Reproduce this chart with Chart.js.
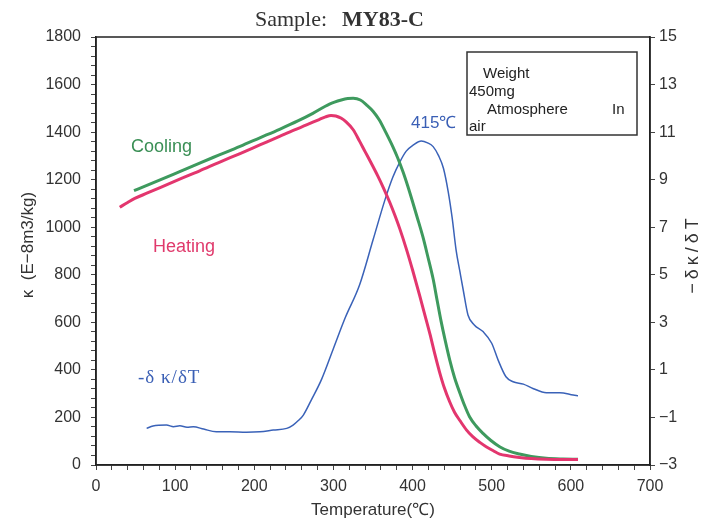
<!DOCTYPE html>
<html lang="en">
<head>
  <meta charset="UTF-8" />
  <title>Sample: MY83-C</title>
  <script src="https://cdn.jsdelivr.net/npm/chart.js@4.4.1/dist/chart.umd.min.js"></script>
  <style>
    body {
      margin: 0;
      background-color: #fff;
    }
    #wrap {
      width: 703px;
      height: 522px;
    }
  </style>
</head>
<body>
  <div id="wrap">
    <canvas id="grafico" width="703" height="522"></canvas>
  </div>

  <script>
    // Heating curve: temperature (C) and susceptibility kappa (E-8 m3/kg)
    const heatT = [30, 40, 49, 65, 81, 105, 131, 155, 182, 207, 232, 250, 266, 282, 290, 297, 303, 310, 316, 325, 333, 340, 348, 356, 363, 371, 378, 384, 392, 400, 409, 416, 422, 428, 434, 440, 447, 453, 460, 468, 476, 485, 493, 502, 510, 522, 535, 550, 569, 590, 609];
    const heatK = [1084, 1104, 1121, 1144, 1167, 1201, 1237, 1272, 1310, 1346, 1382, 1408, 1430, 1453, 1464, 1470, 1468, 1458, 1443, 1410, 1362, 1318, 1268, 1216, 1167, 1106, 1047, 992, 910, 820, 712, 625, 550, 468, 392, 326, 265, 222, 186, 148, 119, 95, 77, 60, 46, 38, 32, 27, 24, 23, 23];

    // Cooling curve
    const coolT = [48, 65, 81, 105, 131, 155, 182, 207, 232, 255, 274, 295, 310, 318, 325, 334, 342, 350, 358, 366, 375, 381, 388, 394, 400, 406, 413, 419, 426, 431, 436, 441, 447, 453, 460, 466, 472, 480, 489, 499, 510, 522, 535, 550, 569, 590, 609];
    const coolK = [1154, 1177, 1199, 1233, 1270, 1303, 1340, 1376, 1412, 1447, 1479, 1518, 1535, 1541, 1542, 1535, 1514, 1488, 1451, 1400, 1339, 1293, 1232, 1172, 1107, 1040, 960, 880, 782, 693, 605, 527, 441, 368, 301, 248, 203, 165, 133, 103, 77, 58, 46, 36, 28, 25, 24];

    // -d kappa / dT (right axis)
    const dervT = [64, 72, 89, 98, 106, 115, 123, 136, 152, 169, 190, 207, 224, 241, 249, 256, 262, 272, 285, 300, 315, 333, 350, 365, 375, 384, 392, 401, 411, 419, 426, 433, 439, 445, 450, 455, 460, 464, 470, 478, 489, 500, 508, 518, 527, 540, 552, 569, 586, 603, 609];
    const dervV = [-1.46, -1.36, -1.32, -1.39, -1.35, -1.41, -1.39, -1.49, -1.60, -1.60, -1.62, -1.60, -1.53, -1.46, -1.32, -1.12, -0.90, -0.27, 0.6, 1.9, 3.2, 4.57, 6.46, 8.14, 9.1, 9.75, 10.2, 10.46, 10.63, 10.55, 10.39, 10.0, 9.48, 8.5, 7.4, 6.04, 5.1, 4.36, 3.31, 2.89, 2.61, 2.12, 1.42, 0.71, 0.5, 0.4, 0.22, 0.04, 0.04, -0.06, -0.09];

    const xLabels = [0, 100, 200, 300, 400, 500, 600, 700];
    const yLabels = [0, 200, 400, 600, 800, 1000, 1200, 1400, 1600, 1800];
    const y2Labels = [-3, -1, 1, 3, 5, 7, 9, 11, 13, 15];

    const puntos = (xs, ys) => xs.map((x, i) => ({ x: x, y: ys[i] }));

    const fuenteTicks = '"Liberation Sans", Arial, sans-serif';
    const tinta = '#333';

    // title, axis titles, frame and notes
    const notas = {
      id: 'notas',
      afterDraw(chart) {
        const ctx = chart.ctx;
        const a = chart.chartArea;
        ctx.save();

        // frame
        ctx.strokeStyle = '#222';
        ctx.lineWidth = 1.5;
        ctx.strokeRect(a.left, a.top, a.right - a.left, a.bottom - a.top);

        // title
        ctx.fillStyle = '#333';
        ctx.textBaseline = 'alphabetic';
        ctx.textAlign = 'left';
        ctx.font = '22px "Liberation Serif", "Times New Roman", serif';
        ctx.fillText('Sample:', 255, 26);
        ctx.font = 'bold 22px "Liberation Serif", "Times New Roman", serif';
        ctx.fillText('MY83-C', 342, 26);

        // axis titles
        ctx.font = '17px ' + fuenteTicks;
        ctx.textAlign = 'center';
        ctx.textBaseline = 'middle';
        ctx.fillText('Temperature(℃)', 373, 510);

        ctx.save();
        ctx.translate(28, 245);
        ctx.rotate(-Math.PI / 2);
        ctx.fillText('κ  (E−8m3/kg)', 0, 0);
        ctx.restore();

        ctx.save();
        ctx.translate(693, 254);
        ctx.rotate(-Math.PI / 2);
        ctx.font = '18px ' + fuenteTicks;
        ctx.letterSpacing = '4px';
        ctx.fillText('−δκ/δT', 0, 0);
        ctx.restore();

        // curve notes
        ctx.textAlign = 'left';
        ctx.textBaseline = 'alphabetic';
        ctx.font = '18px "Liberation Sans", Arial, sans-serif';
        ctx.fillStyle = '#3a8f55';
        ctx.fillText('Cooling', 131, 152);
        ctx.fillStyle = '#e03a6c';
        ctx.fillText('Heating', 153, 252);

        ctx.fillStyle = '#3a5fb5';
        ctx.font = '19px "Liberation Serif", "Times New Roman", serif';
        ctx.letterSpacing = '1px';
        ctx.fillText('-δ κ/δT', 138, 383);
        ctx.letterSpacing = '0px';
        ctx.font = '17px ' + fuenteTicks;
        ctx.fillText('415℃', 411, 128);

        // info box
        ctx.strokeStyle = '#333';
        ctx.lineWidth = 1.5;
        ctx.strokeRect(467, 52, 170, 83);
        ctx.fillStyle = '#222';
        ctx.font = '15px ' + fuenteTicks;
        ctx.fillText('Weight', 483, 78);
        ctx.fillText('450mg', 469, 96);
        ctx.fillText('Atmosphere', 487, 114);
        ctx.fillText('In', 612, 114);
        ctx.fillText('air', 469, 131);

        ctx.restore();
      }
    };

    const ctx = document.getElementById('grafico').getContext('2d');
    new Chart(ctx, {
      type: 'line',
      data: {
        datasets: [
          {
            label: 'Heating',
            data: puntos(heatT, heatK),
            borderColor: '#e3366e',
            borderWidth: 3,
            pointRadius: 0,
            cubicInterpolationMode: 'monotone',
            yAxisID: 'y',
            order: 0
          },
          {
            label: 'Cooling',
            data: puntos(coolT, coolK),
            borderColor: '#3e9a5e',
            borderWidth: 3,
            pointRadius: 0,
            cubicInterpolationMode: 'monotone',
            yAxisID: 'y',
            order: 1
          },
          {
            label: '-dk/dT',
            data: puntos(dervT, dervV),
            borderColor: '#3a62b8',
            borderWidth: 1.5,
            pointRadius: 0,
            cubicInterpolationMode: 'monotone',
            yAxisID: 'y2',
            order: 2
          }
        ]
      },
      options: {
        responsive: false,
        animation: false,
        layout: { padding: { top: 37, left: 0, right: 0, bottom: 0 } },
        plugins: {
          legend: { display: false },
          title: { display: false },
          tooltip: { enabled: false }
        },
        scales: {
          x: {
            type: 'linear',
            min: 0,
            max: 700,
            afterFit(scale) { scale.height = 57; },
            border: { display: true, color: '#222', width: 1.5 },
            grid: { drawOnChartArea: false, drawTicks: true, tickLength: 5, color: '#444' },
            ticks: {
              stepSize: 20,
              autoSkip: false,
              maxRotation: 0,
              padding: 7,
              color: tinta,
              font: { family: fuenteTicks, size: 16 },
              callback: v => xLabels.includes(v) ? String(v) : ''
            }
          },
          y: {
            type: 'linear',
            position: 'left',
            min: 0,
            max: 1800,
            afterFit(scale) { scale.width = 96; },
            border: { display: true, color: '#222', width: 1.5 },
            grid: { drawOnChartArea: false, drawTicks: true, tickLength: 5, color: '#444' },
            ticks: {
              stepSize: 40,
              autoSkip: false,
              padding: 10,
              color: tinta,
              font: { family: fuenteTicks, size: 16 },
              callback: v => yLabels.includes(v) ? String(v) : ''
            }
          },
          y2: {
            type: 'linear',
            position: 'right',
            min: -3,
            max: 15,
            afterFit(scale) { scale.width = 53; },
            border: { display: true, color: '#222', width: 1.5 },
            grid: { drawOnChartArea: false, drawTicks: true, tickLength: 5, color: '#444' },
            ticks: {
              stepSize: 2,
              autoSkip: false,
              padding: 4,
              color: tinta,
              font: { family: fuenteTicks, size: 16 },
              callback: v => y2Labels.includes(v) ? (v < 0 ? '−' + Math.abs(v) : String(v)) : ''
            }
          }
        }
      },
      plugins: [notas]
    });
  </script>
</body>
</html>
